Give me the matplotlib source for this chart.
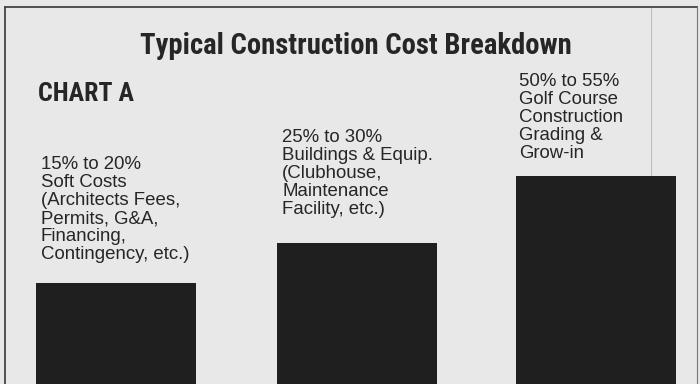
import matplotlib
matplotlib.use('Agg')
import matplotlib.pyplot as plt
from matplotlib import font_manager

# values
ranges = ['15% to 20%', '25% to 30%', '50% to 55%']
descriptions = [
    ['Soft Costs', '(Architects Fees,', 'Permits, G&A,', 'Financing,', 'Contingency, etc.)'],
    ['Buildings & Equip.', '(Clubhouse,', 'Maintenance', 'Facility, etc.)'],
    ['Golf Course', 'Construction', 'Grading &', 'Grow-in'],
]
bar_heights = [101, 141, 208]   # bar height above the bottom edge (as drawn, not to scale)

title = 'Typical Construction Cost Breakdown'
subtitle = 'CHART A'

# layout (pixels, figure is 700 x 384)
W, H = 700, 384
bar_x = [116, 356.5, 596]
bar_w = 160
label_x = [41, 282, 519]
label_base = [169, 142, 86]     # baseline of the first text line, from top
line_step = 18

ink = '#262626'
bar_col = '#1f1f1f'
bg = '#e8e8e8'

names = {f.name for f in font_manager.fontManager.ttflist}
head_font = dict(family='DejaVu Sans', weight='bold', stretch='condensed')
for cand in ['Roboto Condensed', 'Liberation Sans Narrow', 'Noto Sans Condensed',
             'Open Sans Condensed']:
    if cand in names:
        head_font = dict(family=cand, weight='bold')
        break
body_font = 'Liberation Sans' if 'Liberation Sans' in names else 'DejaVu Sans'

fig = plt.figure(figsize=(W / 100, H / 100), dpi=100)
fig.patch.set_facecolor(bg)
ax = fig.add_axes([0, 0, 1, 1])
ax.set_xlim(0, W)
ax.set_ylim(0, H)
ax.axis('off')
ax.set_facecolor(bg)

ax.bar(bar_x, bar_heights, width=bar_w, bottom=0, color=bar_col, zorder=2)

for i in range(len(ranges)):
    lines = [ranges[i]] + descriptions[i]
    for j, s in enumerate(lines):
        ax.text(label_x[i], H - (label_base[i] + j * line_step), s,
                fontsize=13.4, family=body_font, color=ink,
                ha='left', va='baseline')

t1 = ax.text(355.5, H - 54, title, fontsize=20, color=ink,
             ha='center', va='baseline', **head_font)
t2 = ax.text(38, H - 101, subtitle, fontsize=15, color=ink,
             ha='left', va='baseline', **head_font)

# squeeze headings to the widths seen in the scan
r = fig.canvas.get_renderer()
for t, target in [(t1, 430), (t2, 96)]:
    w = t.get_window_extent(r).width
    t.set_fontsize(t.get_fontsize() * target / w)

# frame of the printed box
ax.plot([5, 697], [H - 7, H - 7], color='#444444', lw=1.3)
ax.plot([5, 5], [0, H - 7], color='#444444', lw=1.3)
ax.plot([697, 697], [0, H - 7], color='#777777', lw=0.8)
ax.plot([651, 651], [H - 8, H - 176], color='#bdbdbd', lw=0.8, zorder=1)

fig.savefig('out.png', dpi=100, facecolor=bg)
